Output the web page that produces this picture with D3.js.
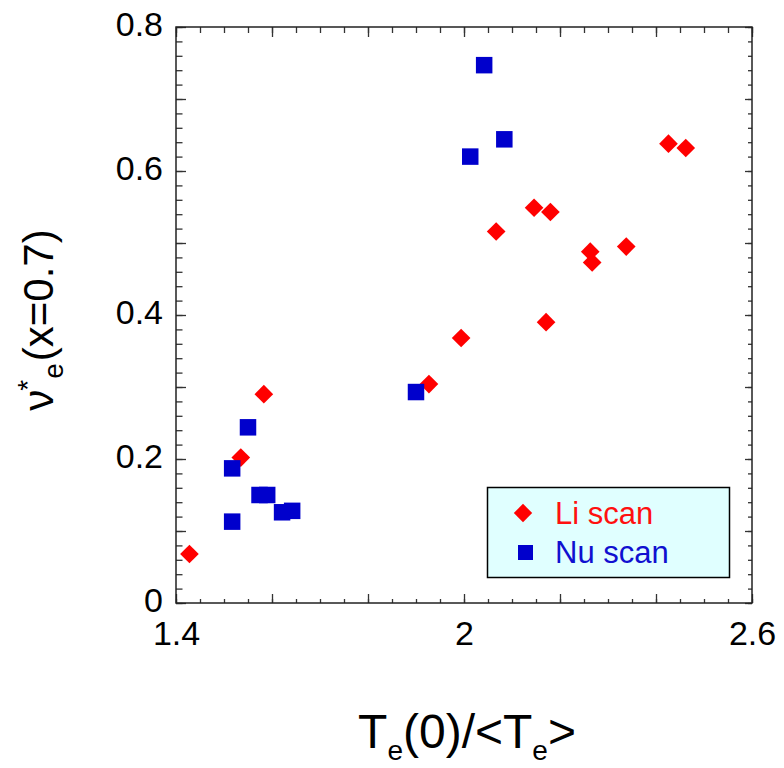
<!DOCTYPE html>
<html>
<head>
<meta charset="utf-8">
<script src="https://cdn.jsdelivr.net/npm/d3@7"></script>
<style>
  html, body { margin: 0; padding: 0; background: #fff; }
  svg { display: block; font-family: "Liberation Sans", Arial, sans-serif; }
</style>
</head>
<body>
<svg id="chart" width="784" height="768"></svg>
<script>
// Li scan (red diamonds)
const liX = [1.428, 1.535, 1.583, 1.927, 1.994, 2.067, 2.146, 2.180, 2.171, 2.263, 2.267, 2.338, 2.426, 2.462];
const liY = [0.068, 0.202, 0.290, 0.304, 0.368, 0.516, 0.549, 0.543, 0.390, 0.488, 0.473, 0.495, 0.638, 0.632];

// Nu scan (blue squares)
const nuX = [1.517, 1.517, 1.550, 1.574, 1.590, 1.621, 1.642, 1.900, 2.013, 2.042, 2.084];
const nuY = [0.113, 0.187, 0.244, 0.150, 0.150, 0.126, 0.128, 0.293, 0.620, 0.747, 0.644];

// Axis ticks and labels
const xLabelTicks = [1.4, 2, 2.6];
const xMajorTicks = [1.4, 1.6, 1.8, 2.0, 2.2, 2.4, 2.6];
const xMinorTicks = d3.range(0, 25).map(i => +(1.4 + i * 0.05).toFixed(2));
const yLabelTicks = [0, 0.2, 0.4, 0.6, 0.8];
const yMajorTicks = d3.range(0, 9).map(i => +(i * 0.1).toFixed(1));
const yMinorTicks = d3.range(0, 41).map(i => +(i * 0.02).toFixed(2));

const seriesNames = ["Li scan", "Nu scan"];
const seriesColors = ["#ff0000", "#0000cc"];
const seriesText = ["#ff1010", "#1010d0"];

const svg = d3.select("#chart");
const plotLeft = 176, plotRight = 752, plotTop = 27, plotBottom = 603;

const x = d3.scaleLinear().domain([1.4, 2.6]).range([plotLeft, plotRight]);
const y = d3.scaleLinear().domain([0, 0.8]).range([plotBottom, plotTop]);

const tickColor = "#333";

function styleAxis(g) {
  g.select(".domain").remove();
  g.selectAll(".tick line").attr("stroke", tickColor).attr("stroke-width", 1.3);
  g.attr("font-family", null).attr("font-size", null);
}

// inward ticks on all four sides
svg.append("g").attr("transform", `translate(0,${plotBottom})`)
  .call(d3.axisBottom(x).tickValues(xMinorTicks).tickSize(-4).tickFormat("")).call(styleAxis);
svg.append("g").attr("transform", `translate(0,${plotBottom})`)
  .call(d3.axisBottom(x).tickValues(xMajorTicks).tickSize(-9).tickFormat("")).call(styleAxis);
svg.append("g").attr("transform", `translate(0,${plotTop})`)
  .call(d3.axisTop(x).tickValues(xMinorTicks).tickSize(-6).tickFormat("")).call(styleAxis);
svg.append("g").attr("transform", `translate(0,${plotTop})`)
  .call(d3.axisTop(x).tickValues(xMajorTicks).tickSize(-10).tickFormat("")).call(styleAxis);
svg.append("g").attr("transform", `translate(${plotLeft},0)`)
  .call(d3.axisLeft(y).tickValues(yMinorTicks).tickSize(-6.5).tickFormat("")).call(styleAxis);
svg.append("g").attr("transform", `translate(${plotLeft},0)`)
  .call(d3.axisLeft(y).tickValues(yMajorTicks).tickSize(-10).tickFormat("")).call(styleAxis);
svg.append("g").attr("transform", `translate(${plotRight},0)`)
  .call(d3.axisRight(y).tickValues(yMinorTicks).tickSize(-4).tickFormat("")).call(styleAxis);
svg.append("g").attr("transform", `translate(${plotRight},0)`)
  .call(d3.axisRight(y).tickValues(yMajorTicks).tickSize(-7).tickFormat("")).call(styleAxis);

// tick labels
const xLab = svg.append("g").attr("transform", `translate(0,${plotBottom})`)
  .call(d3.axisBottom(x).tickValues(xLabelTicks).tickSize(0).tickPadding(18).tickFormat(d3.format("")));
xLab.select(".domain").remove();
xLab.attr("font-family", null).attr("font-size", null);
xLab.selectAll("text").attr("font-size", 34).attr("fill", "#000");

const yLab = svg.append("g").attr("transform", `translate(${plotLeft},0)`)
  .call(d3.axisLeft(y).tickValues(yLabelTicks).tickSize(0).tickPadding(13).tickFormat(d3.format("")));
yLab.select(".domain").remove();
yLab.attr("font-family", null).attr("font-size", null);
yLab.selectAll("text").attr("font-size", 34).attr("fill", "#000").attr("dy", "0.24em");

// frame
svg.append("rect")
  .attr("x", plotLeft).attr("y", plotTop)
  .attr("width", plotRight - plotLeft).attr("height", plotBottom - plotTop)
  .attr("fill", "none").attr("stroke", "#222").attr("stroke-width", 1.5);

// markers
const diamond = d3.symbol().type(d3.symbolSquare).size(13.2 * 13.2);
const square = d3.symbol().type(d3.symbolSquare).size(16.5 * 16.5);

svg.append("g").selectAll("path")
  .data(liX.map((d, i) => [d, liY[i]]))
  .join("path")
  .attr("d", diamond)
  .attr("transform", d => `translate(${x(d[0])},${y(d[1])}) rotate(45)`)
  .attr("fill", seriesColors[0]);

svg.append("g").selectAll("path")
  .data(nuX.map((d, i) => [d, nuY[i]]))
  .join("path")
  .attr("d", square)
  .attr("transform", d => `translate(${x(d[0])},${y(d[1])})`)
  .attr("fill", seriesColors[1]);

// legend
const legend = svg.append("g");
legend.append("rect")
  .attr("x", 487.5).attr("y", 487.5).attr("width", 242).attr("height", 90)
  .attr("fill", "#e0ffff").attr("stroke", "#000").attr("stroke-width", 1.5);
legend.append("path")
  .attr("d", d3.symbol().type(d3.symbolSquare).size(13 * 13))
  .attr("transform", "translate(523,513) rotate(45)")
  .attr("fill", seriesColors[0]);
legend.append("path")
  .attr("d", d3.symbol().type(d3.symbolSquare).size(15 * 15))
  .attr("transform", "translate(525.5,552.5)")
  .attr("fill", seriesColors[1]);
legend.append("text").attr("x", 555).attr("y", 524)
  .attr("font-size", 31).attr("fill", seriesText[0]).text(seriesNames[0]);
legend.append("text").attr("x", 555).attr("y", 563)
  .attr("font-size", 31).attr("fill", seriesText[1]).text(seriesNames[1]);

// axis titles
const xt = svg.append("text").attr("x", 467).attr("y", 748)
  .attr("text-anchor", "middle").attr("font-size", 48).attr("fill", "#000");
xt.append("tspan").text("T");
xt.append("tspan").attr("font-size", 28).attr("dy", 12).text("e");
xt.append("tspan").attr("dy", -12).text("(0)/<T");
xt.append("tspan").attr("font-size", 28).attr("dy", 12).text("e");
xt.append("tspan").attr("dy", -12).text(">");

const yt = svg.append("text")
  .attr("transform", "translate(53,320) rotate(-90)")
  .attr("text-anchor", "middle").attr("font-size", 42).attr("fill", "#000");
yt.append("tspan").text("ν");
yt.append("tspan").attr("font-size", 28).attr("dy", -16).attr("dx", -1).text("*");
yt.append("tspan").attr("font-size", 28).attr("dy", 26).attr("dx", 1).text("e");
yt.append("tspan").attr("dy", -10).attr("dx", 2).text("(x=0.7)");
</script>
</body>
</html>
